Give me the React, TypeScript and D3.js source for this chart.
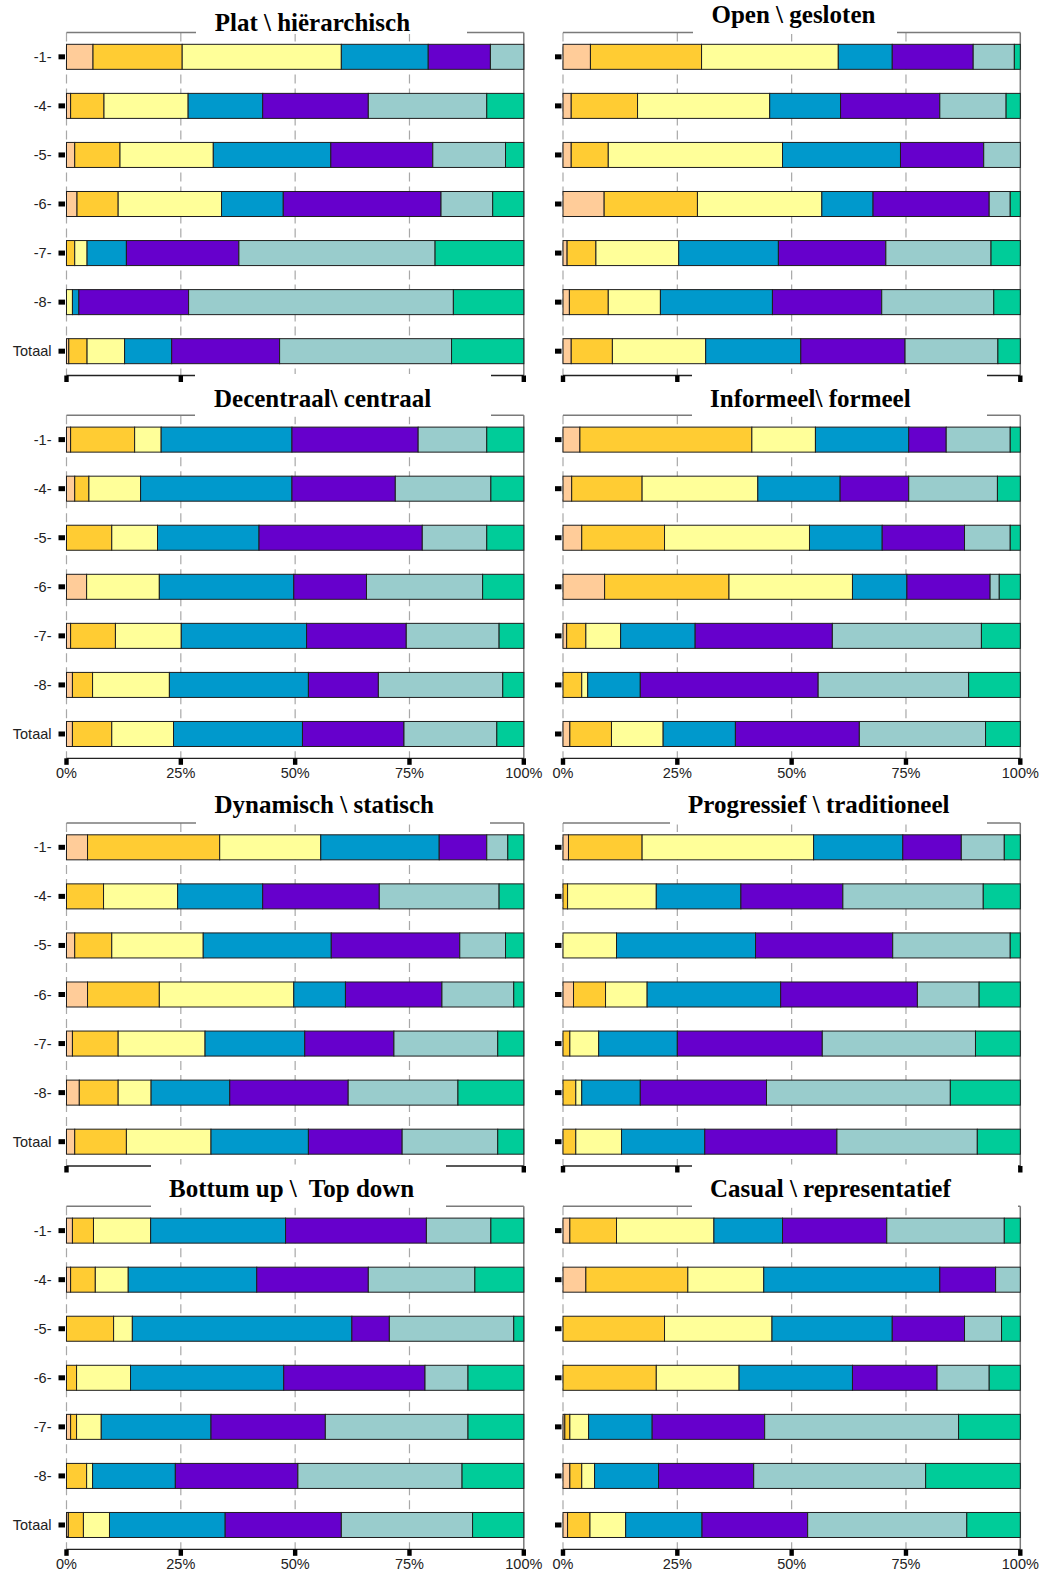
import React from "react";
import * as d3 from "d3";

// ---------- DATA ----------
const categories = ["-1-", "-4-", "-5-", "-6-", "-7-", "-8-", "Totaal"];
const segmentKeys = ["c1", "c2", "c3", "c4", "c5", "c6", "c7"];
const segmentColors = ["#FFCC99", "#FFCC33", "#FFFF99", "#0099CC", "#6600CC", "#99CCCC", "#00CC99"];
const xTickValues = [0, 0.25, 0.5, 0.75, 1];
const xTickLabels = ["0%", "25%", "50%", "75%", "100%"];

const titles = [
  "Plat \\ hiërarchisch",
  "Open \\ gesloten",
  "Decentraal\\ centraal",
  "Informeel\\ formeel",
  "Dynamisch \\ statisch",
  "Progressief \\ traditioneel",
  "Bottum up \\  Top down",
  "Casual \\ representatief",
];

// rows: -1-, -4-, -5-, -6-, -7-, -8-, Totaal ; columns: the seven answer categories
const platHierarchisch = [
  [5.8, 19.5, 34.8, 19.0, 13.6, 7.3, 0],
  [0.9, 7.3, 18.4, 16.3, 23.1, 25.9, 8.1],
  [1.8, 9.9, 20.4, 25.7, 22.3, 15.9, 4.0],
  [2.3, 9.0, 22.6, 13.5, 34.5, 11.3, 6.8],
  [0, 1.8, 2.7, 8.6, 24.6, 42.9, 19.4],
  [0, 0, 1.3, 1.4, 24.0, 57.9, 15.4],
  [0.5, 4.0, 8.2, 10.3, 23.6, 37.6, 15.8],
];
const openGesloten = [
  [6.0, 24.3, 29.9, 11.8, 17.7, 9.0, 1.3],
  [1.8, 14.5, 28.9, 15.5, 21.7, 14.5, 3.1],
  [1.8, 8.1, 38.1, 25.8, 18.2, 8.0, 0],
  [9.0, 20.4, 27.2, 11.2, 25.4, 4.6, 2.2],
  [0.9, 6.3, 18.1, 21.8, 23.5, 23.0, 6.4],
  [1.4, 8.5, 11.4, 24.5, 23.9, 24.5, 5.8],
  [1.8, 9.0, 20.4, 20.8, 22.8, 20.3, 4.9],
];
const decentraalCentraal = [
  [0.9, 14.0, 5.8, 28.6, 27.6, 15.0, 8.1],
  [1.8, 3.1, 11.3, 33.1, 22.6, 20.9, 7.2],
  [0, 9.9, 10.0, 22.2, 35.7, 14.1, 8.1],
  [4.4, 0, 15.9, 29.4, 15.9, 25.4, 9.0],
  [0.9, 9.8, 14.4, 27.4, 21.8, 20.3, 5.4],
  [1.3, 4.4, 16.8, 30.4, 15.3, 27.2, 4.6],
  [1.3, 8.6, 13.5, 28.2, 22.2, 20.3, 5.9],
];
const informeelFormeel = [
  [3.7, 37.6, 13.9, 20.4, 8.2, 14.0, 2.2],
  [1.9, 15.4, 25.3, 18.0, 15.0, 19.4, 5.0],
  [4.1, 18.1, 31.7, 15.9, 18.0, 10.0, 2.2],
  [9.1, 27.2, 27.0, 11.9, 18.2, 2.0, 4.6],
  [0.8, 4.2, 7.6, 16.3, 30.0, 32.6, 8.5],
  [0, 4.1, 1.3, 11.5, 38.9, 32.9, 11.3],
  [1.5, 9.1, 11.3, 15.8, 27.1, 27.6, 7.6],
];
const dynamischStatisch = [
  [4.6, 28.9, 22.1, 25.9, 10.4, 4.6, 3.5],
  [0, 8.1, 16.2, 18.6, 25.5, 26.2, 5.4],
  [1.8, 8.1, 20.0, 28.0, 28.1, 10.0, 4.0],
  [4.6, 15.7, 29.4, 11.3, 21.1, 15.7, 2.2],
  [1.3, 10.0, 19.0, 21.8, 19.5, 22.7, 5.7],
  [2.8, 8.5, 7.2, 17.2, 25.9, 24.0, 14.4],
  [1.8, 11.3, 18.5, 21.3, 20.5, 20.9, 5.7],
];
const progressiefTraditioneel = [
  [1.2, 16.1, 37.5, 19.5, 12.8, 9.4, 3.5],
  [0, 1.0, 19.4, 18.5, 22.3, 30.7, 8.1],
  [0, 0, 11.7, 30.4, 30.0, 25.7, 2.2],
  [2.3, 7.0, 9.1, 29.2, 29.9, 13.5, 9.0],
  [0, 1.5, 6.3, 17.2, 31.7, 33.5, 9.8],
  [0, 2.8, 1.3, 12.8, 27.6, 40.2, 15.3],
  [0, 2.8, 10.0, 18.2, 28.9, 30.7, 9.4],
];
const bottumupTopdown = [
  [1.3, 4.6, 12.5, 29.5, 30.8, 14.1, 7.2],
  [0.9, 5.4, 7.2, 28.1, 24.4, 23.3, 10.7],
  [0, 10.3, 4.1, 48.0, 8.2, 27.2, 2.2],
  [0, 2.2, 11.8, 33.5, 30.9, 9.4, 12.2],
  [0.9, 1.3, 5.4, 24.0, 25.0, 31.2, 12.2],
  [0, 4.4, 1.3, 18.1, 26.8, 35.9, 13.5],
  [0.4, 3.3, 5.7, 25.3, 25.4, 28.7, 11.2],
];
const casualRepresentatief = [
  [1.5, 10.2, 21.3, 15.0, 22.8, 25.7, 3.5],
  [5.0, 22.3, 16.6, 38.5, 12.2, 5.4, 0],
  [0, 22.2, 23.5, 26.3, 15.8, 8.1, 4.1],
  [0, 20.4, 18.1, 24.8, 18.5, 11.4, 6.8],
  [0.4, 1.1, 4.1, 13.9, 24.6, 42.4, 13.5],
  [1.5, 2.6, 2.8, 14.0, 20.8, 37.6, 20.7],
  [1.0, 4.9, 7.8, 16.7, 23.1, 34.8, 11.7],
];

const panelValues = [
  platHierarchisch,
  openGesloten,
  decentraalCentraal,
  informeelFormeel,
  dynamischStatisch,
  progressiefTraditioneel,
  bottumupTopdown,
  casualRepresentatief,
];

// ---------- LAYOUT ----------
const W = 1054;
const H = 1574;
const colX: [number, number][] = [
  [66.5, 523.8],
  [563, 1020.3],
];
const rowTop = [32.5, 415.3, 823, 1206.3];
const panelH = 343;
const rowHasLabels = [false, true, false, true];
// title placement: text start x, baseline y, white box [x0, x1]
const titleLayout = [
  { x: 214.7, y: 30.7, b0: 196, b1: 467 },
  { x: 711.5, y: 23.3, b0: 693, b1: 897 },
  { x: 214, y: 406.7, b0: 195, b1: 491 },
  { x: 710, y: 406.7, b0: 692, b1: 987 },
  { x: 214.5, y: 812.7, b0: 196, b1: 490 },
  { x: 688, y: 812.7, b0: 670, b1: 987 },
  { x: 169, y: 1197.3, b0: 151, b1: 446 },
  { x: 710, y: 1197.3, b0: 692, b1: 1018 },
];

const sansFont = "'Liberation Sans', Arial, sans-serif";
const serifFont = "'Liberation Serif', 'Times New Roman', serif";

function Panel({ idx }: { idx: number }) {
  const col = idx % 2;
  const row = Math.floor(idx / 2);
  const top = rowTop[row];
  const bottom = top + panelH;
  const x = d3.scaleLinear().domain([0, 1]).range(colX[col]);
  const y = d3
    .scaleBand<string>()
    .domain(categories)
    .range([top, bottom])
    .paddingInner(0.49)
    .paddingOuter(0.2407);
  const rows = panelValues[idx].map((vals, i) => {
    const o: any = { cat: categories[i] };
    segmentKeys.forEach((k, j) => (o[k] = vals[j]));
    return o;
  });
  const series = d3.stack<any>().keys(segmentKeys).offset(d3.stackOffsetExpand)(rows);
  const [x0, x1] = colX[col];
  const bw = y.bandwidth();
  return (
    <g>
      {/* gridlines */}
      {xTickValues.slice(0, 4).map((t) => (
        <line
          key={"g" + t}
          x1={x(t)}
          x2={x(t)}
          y1={top}
          y2={bottom}
          stroke="#a8a8a8"
          strokeWidth={1.2}
          strokeDasharray="9,5"
        />
      ))}
      {/* frame */}
      <line x1={x0} x2={x1} y1={top} y2={top} stroke="#7a7a7a" strokeWidth={1.5} />
      <line x1={x1} x2={x1} y1={top} y2={bottom} stroke="#7a7a7a" strokeWidth={1.5} />
      {/* bars */}
      {series.map((s, si) =>
        s.map((d, ri) => {
          const v = panelValues[idx][ri][si];
          if (!v) return null;
          return (
            <rect
              key={si + "-" + ri}
              x={x(d[0])}
              y={y(categories[ri])}
              width={Math.max(0, x(d[1]) - x(d[0]))}
              height={bw}
              fill={segmentColors[si]}
              stroke="#1e1e1e"
              strokeWidth={1}
            />
          );
        })
      )}
      {/* y ticks */}
      {categories.map((c) => {
        const cy = (y(c) as number) + bw / 2;
        return (
          <g key={"y" + c}>
            <rect x={x0 - 8} y={cy - 2.5} width={6.5} height={5} fill="#000" />
            {col === 0 && (
              <text
                x={x0 - 15}
                y={cy + 5}
                textAnchor="end"
                fontFamily={sansFont}
                fontSize={14.5}
                fill="#222"
              >
                {c}
              </text>
            )}
          </g>
        );
      })}
      {/* bottom axis */}
      <line x1={x0} x2={x1} y1={bottom} y2={bottom} stroke="#222" strokeWidth={1.3} />
      {xTickValues.map((t, i) => (
        <g key={"x" + t}>
          <rect x={x(t) - 2.2} y={bottom} width={4.4} height={6.5} fill="#000" />
          {rowHasLabels[row] && (
            <text
              x={x(t)}
              y={bottom + 20}
              textAnchor="middle"
              fontFamily={sansFont}
              fontSize={14.5}
              fill="#222"
            >
              {xTickLabels[i]}
            </text>
          )}
        </g>
      ))}
    </g>
  );
}

function Title({ idx }: { idx: number }) {
  const row = Math.floor(idx / 2);
  const top = rowTop[row];
  const L = titleLayout[idx];
  let boxTop = 0;
  if (row > 0) {
    const prevBottom = rowTop[row - 1] + panelH;
    boxTop = rowHasLabels[row - 1] ? prevBottom + 28 : prevBottom - 1.5;
  }
  return (
    <g>
      <rect x={L.b0} y={boxTop} width={L.b1 - L.b0} height={top + 1.5 - boxTop} fill="#fff" />
      <text
        x={L.x}
        y={L.y}
        fontFamily={serifFont}
        fontWeight="bold"
        fontSize={25}
        fill="#000"
        style={{ whiteSpace: "pre" }}
        xmlSpace="preserve"
      >
        {titles[idx]}
      </text>
    </g>
  );
}

export default function App() {
  const idxs = d3.range(8);
  return (
    <svg
      width={W}
      height={H}
      viewBox={`0 0 ${W} ${H}`}
      style={{ position: "absolute", left: 0, top: 0, background: "#fff" }}
    >
      <rect x={0} y={0} width={W} height={H} fill="#fff" />
      {idxs.map((i) => (
        <Panel key={"p" + i} idx={i} />
      ))}
      {idxs.map((i) => (
        <Title key={"t" + i} idx={i} />
      ))}
    </svg>
  );
}
